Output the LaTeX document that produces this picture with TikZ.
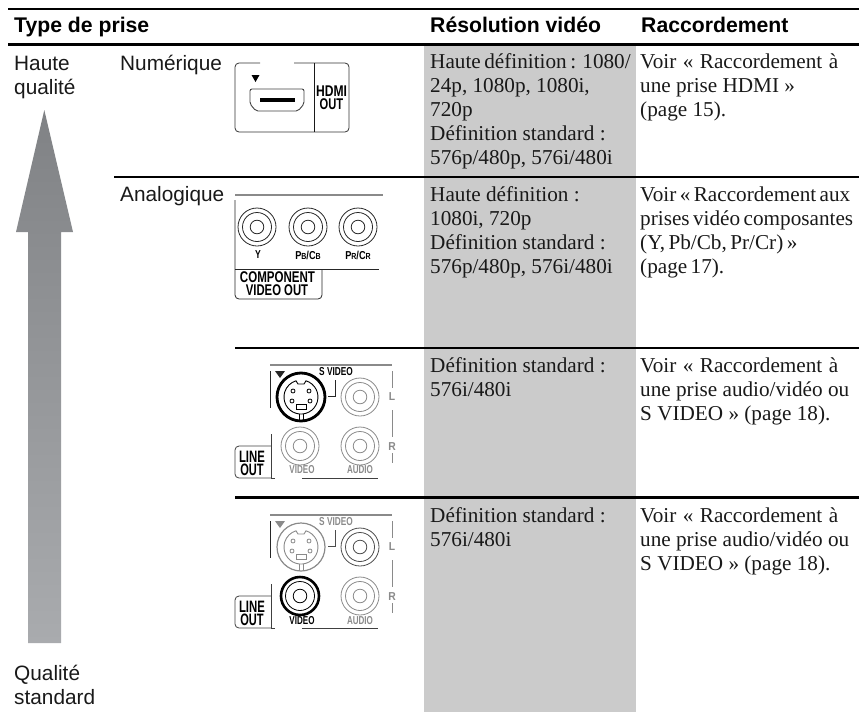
\documentclass[tikz,border=0pt]{standalone}
\usepackage{fontspec}
\usepackage{graphicx}
\setmainfont{Liberation Serif}
\setsansfont{Liberation Sans}
\newfontfamily\serifnarrow[WordSpace=0.65]{Liberation Serif}
\definecolor{colgray}{HTML}{CBCBCB}
\definecolor{pale}{HTML}{8A8A8A}
\definecolor{arrowtop}{HTML}{808285}
\definecolor{arrowbot}{HTML}{A9ABAE}
\newcommand\lines[1]{\begin{tabular}[t]{@{}l@{}}#1\end{tabular}}
\newcommand\cond[2][0.8]{\scalebox{#1}[1]{#2}}
\newcommand\voirline{\makebox[198pt][s]{Voir « Raccordement à}}
\tikzset{
  x=1pt,y=-1pt,
  rulebar/.style={line width=2.4pt,black},
  serif/.style={anchor=base west,inner sep=0pt,font=\rmfamily\fontsize{21.2}{24}\selectfont,text=black!90},
  sans/.style={anchor=base west,inner sep=0pt,font=\sffamily\fontsize{20.8}{24}\selectfont,text=black!90},
  head/.style={anchor=base west,inner sep=0pt,font=\sffamily\bfseries\fontsize{21.2}{24}\selectfont},
  tagtext/.style={inner sep=0pt,font=\sffamily\bfseries\fontsize{15.5}{15.5}\selectfont},
  linetext/.style={inner sep=0pt,font=\sffamily\bfseries\fontsize{16.5}{16.5}\selectfont},
  smalltext/.style={inner sep=0pt,font=\sffamily\bfseries\fontsize{11.5}{12}\selectfont},
  panel/.style={line width=0.8pt},
}
% RCA jack: x, y, colour, outer line width
\newcommand\jack[4]{%
  \draw[#3,line width=#4] (#1,#2) circle[radius=19];
  \draw[#3,line width=0.8pt] (#1,#2) circle[radius=14.5];
  \draw[#3,line width=0.8pt] (#1,#2) circle[radius=6.8];
}
% S-video socket: x, y, colour, outer width
\newcommand\svideo[4]{%
  \begin{scope}[shift={(#1,#2)},#3]
    \draw[line width=#4] (0,0) circle[radius=24];
    \draw[line width=0.9pt] (5,-16.2) arc[start angle=-72.8,end angle=252.8,radius=17]
      -- (-3,-13) -- (3,-13) -- cycle;
    \draw[line width=0.9pt] (-2,17) -- (-2,24) (2,17) -- (2,24);
    \draw[line width=0.8pt] (-8,-6) circle[radius=2] (8,-6) circle[radius=2]
      (-9,4) circle[radius=2] (9,4) circle[radius=2];
    \draw[line width=0.8pt] (-5,7) rectangle (5,12);
  \end{scope}}
\begin{document}
\begin{tikzpicture}
\useasboundingbox (0,0) rectangle (859,712);
% shaded column
\fill[colgray] (424,45) rectangle (636,712);
% rules
\draw[rulebar] (8,9) -- (859,9);
\draw[rulebar] (8,44.5) -- (859,44.5);
\draw[rulebar] (114,177) -- (859,177);
\draw[rulebar] (235,348) -- (859,348);
\draw[rulebar] (235,497.5) -- (859,497.5);
% headers
\node[head] (h1) at (14,32.5) {Type de prise};
\node[head] (h2) at (430,32.5) {Résolution vidéo};
\node[head] (h3) at (641,32.5) {Raccordement};
% left labels
\node[sans] (hq) at (14,70) {\lines{Haute\\qualité}};
\node[sans] (sq) at (14,680) {\lines{Qualité\\standard}};
\node[sans] (num) at (120,70) {Numérique};
\node[sans] (ana) at (120,201) {Analogique};
% arrow
\shade[top color=arrowtop,bottom color=arrowbot]
  (44.3,110) -- (73,232) -- (61,232) -- (61,643) -- (28,643) -- (28,232) -- (16,232) -- cycle;
% resolution column
\node[serif] (r1) at (430,68.5) {\lines{\makebox[197pt][s]{Haute définition : 1080/}\\24p, 1080p, 1080i,\\720p\\Définition standard :\\576p/480p, 576i/480i}};
\node[serif] (r2) at (430,201) {\lines{Haute définition :\\1080i, 720p\\Définition standard :\\576p/480p, 576i/480i}};
\node[serif] (r3) at (430,372) {\lines{Définition standard :\\576i/480i}};
\node[serif] (r4) at (430,522) {\lines{Définition standard :\\576i/480i}};
% connection column
\node[serif] (c1) at (640,68.5) {\lines{\voirline\\une prise HDMI »\\(page 15).}};
\node[serif] (c2) at (640,201) {\serifnarrow\lines{Voir « Raccordement aux\\prises vidéo composantes\\(Y, Pb/Cb, Pr/Cr) »\\(page 17).}};
\node[serif] (c3) at (640,372) {\lines{\voirline\\une prise audio/vidéo ou\\S VIDEO » (page 18).}};
\node[serif] (c4) at (640,522) {\lines{\voirline\\une prise audio/vidéo ou\\S VIDEO » (page 18).}};
% HDMI panel
\draw[panel,black!80,rounded corners=4pt] (260,63) -- (235,63) -- (235,132) -- (349,132) -- (349,63) -- (294,63);
\draw[panel,black!90] (314,63) -- (314,132);
\fill[black] (251.5,75) -- (259.5,75) -- (255.5,82) -- cycle;
\draw[line width=0.9pt,black!75,rounded corners=2pt] (250,89) -- (304,89) -- (304,104) -- (298,111) -- (256,111) -- (250,104) -- cycle;
\fill[black] (260,98) rectangle (295,102);
\node[tagtext] (hdmi) at (331.5,91) {\cond[0.78]{HDMI}};
\node[tagtext] (hout) at (331.5,104) {\cond[0.72]{OUT}};
% component panel
\draw[line width=1.2pt,pale] (235,195) -- (383,195);
\draw[panel,black!85,rounded corners=4pt] (235,200) -- (235,299) -- (322,299) -- (322,269);
\draw[panel,black!85] (235,269) -- (379,269);
\jack{257}{227}{black!85}{0.8pt}
\jack{308}{227}{black!85}{0.8pt}
\jack{358}{227}{black!85}{0.8pt}
\node[smalltext] (ly) at (258,255) {\cond[0.75]{Y}};
\node[smalltext] (lpb) at (308,255) {\cond[0.8]{P{\fontsize{8.8}{9}\selectfont B}/C{\fontsize{8.8}{9}\selectfont B}}};
\node[smalltext] (lpr) at (358,255) {\cond[0.8]{P{\fontsize{8.8}{9}\selectfont R}/C{\fontsize{8.8}{9}\selectfont R}}};
\node[tagtext] (comp) at (277.5,277) {\cond[0.745]{COMPONENT}};
\node[tagtext] (vout) at (277,290.5) {\cond[0.73]{VIDEO OUT}};
% S-video panel (upper)
\draw[line width=1.2pt,pale] (270,365) -- (392,365);
\draw[panel,black!85] (270,371) -- (270,408);
\fill[black!85] (275,371) -- (285,371) -- (280,378) -- cycle;
\svideo{301}{397}{black}{2.8pt}
\jack{360}{397}{pale}{0.8pt}
\node[smalltext] (s1) at (336,372) {\cond[0.72]{S VIDEO}};
\draw[panel,black!85] (335,380) -- (335,396) -- (328,396);
\draw[line width=1pt,pale] (392,371) -- (392,388) (392,410) -- (392,437) (392,453) -- (392,463);
\node[smalltext,text=pale] (l1) at (392,397) {\cond[0.9]{L}};
\node[smalltext,text=pale] (r1b) at (392,447) {\cond[0.9]{R}};
\jack{300}{446}{pale}{0.8pt}
\jack{360}{446}{pale}{0.8pt}
\node[smalltext,text=pale] (v1) at (302,470) {\cond[0.7]{VIDEO}};
\node[smalltext,text=pale] (a1) at (360,470) {\cond[0.7]{AUDIO}};
\draw[panel,black!75] (271,434) -- (271,478) -- (275,478) (302,478) -- (378,478);
\draw[panel,black!75,rounded corners=4pt] (271,446) -- (235,446) -- (235,478) -- (271,478);
\node[linetext] (ln1) at (252,456.5) {\cond[0.69]{LINE}};
\node[linetext] (lo1) at (252,469.5) {\cond[0.67]{OUT}};
% S-video panel (lower)
\draw[line width=1.2pt,pale] (270,515) -- (392,515);
\draw[panel,black!85] (270,521) -- (270,558);
\fill[pale] (275,521) -- (285,521) -- (280,528) -- cycle;
\svideo{301}{547}{pale}{1.2pt}
\jack{360}{547}{black!70}{0.8pt}
\node[smalltext,text=pale] (s2) at (336,522) {\cond[0.72]{S VIDEO}};
\draw[panel,black!70] (335,530) -- (335,546) -- (328,546);
\draw[line width=1pt,pale] (392,521) -- (392,538) (392,560) -- (392,587) (392,603) -- (392,613);
\node[smalltext,text=pale] (l2) at (392,547) {\cond[0.9]{L}};
\node[smalltext,text=pale] (r2b) at (392,597) {\cond[0.9]{R}};
\jack{300}{596}{black}{2.6pt}
\jack{360}{596}{pale}{0.8pt}
\node[smalltext] (v2) at (302,620.5) {\cond[0.7]{VIDEO}};
\node[smalltext,text=pale] (a2) at (360,620.5) {\cond[0.7]{AUDIO}};
\draw[panel,black!75] (271,584) -- (271,628) -- (275,628) (302,628) -- (378,628);
\draw[panel,black!75,rounded corners=4pt] (271,596) -- (235,596) -- (235,628) -- (271,628);
\node[linetext] (ln2) at (252,606.5) {\cond[0.69]{LINE}};
\node[linetext] (lo2) at (252,619.5) {\cond[0.67]{OUT}};
\end{tikzpicture}
\end{document}
